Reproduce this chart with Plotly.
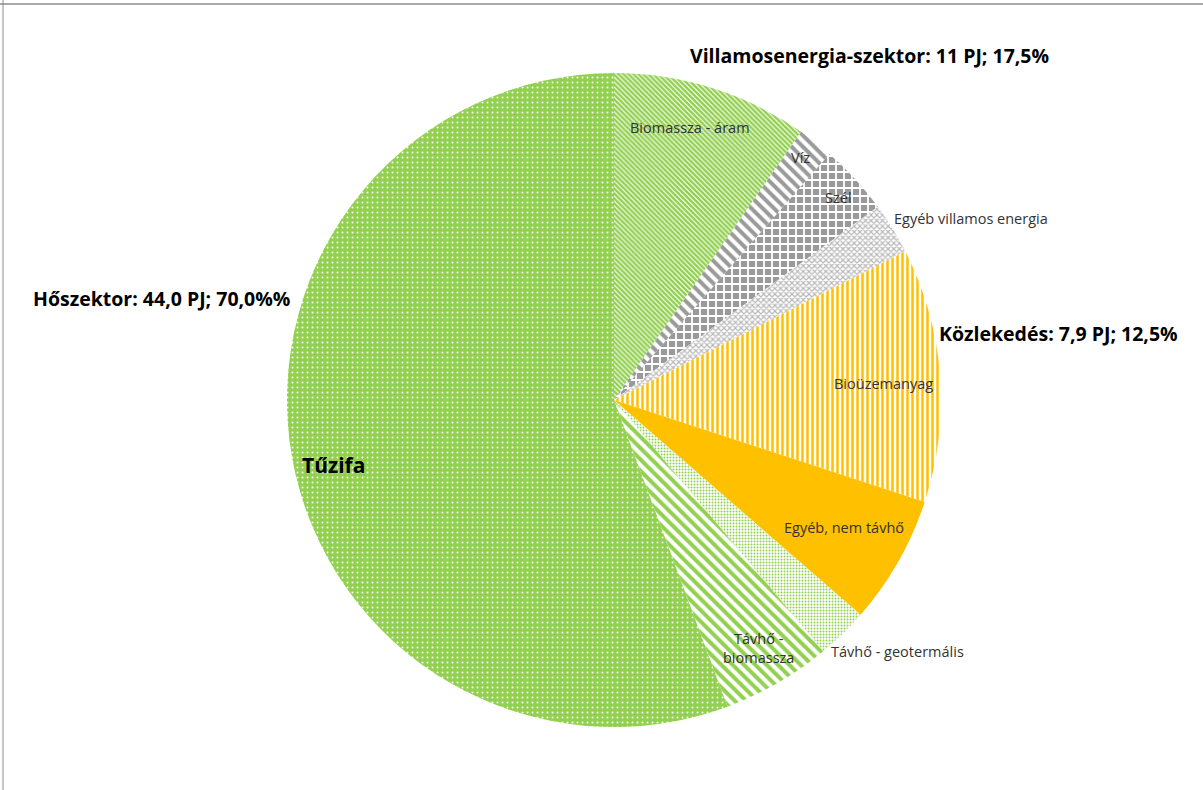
import plotly.graph_objects as go

W, H = 1203, 790

# Data (PJ), clockwise from 12 o'clock
labels = ["Biomassza - áram", "Víz", "Szél", "Egyéb villamos energia",
          "Bioüzemanyag", "Egyéb, nem távhő", "Távhő - geotermális",
          "Távhő - biomassza", "Tűzifa"]
values = [6.1, 1.1, 2.2, 1.6, 7.9, 4.0, 1.6, 3.4, 35.0]

sector_titles = ["Villamosenergia-szektor: 11 PJ; 17,5%",
                 "Közlekedés: 7,9 PJ; 12,5%",
                 "Hőszektor: 44,0 PJ; 70,0%%"]

GREEN = "#92D050"
GREY = "#9a9a9a"
LGREY = "#b8b8b8"
ORANGE = "#FFC000"

shapes_p = ["\\", "\\", "+", "x", "|", "", ".", "\\", "."]
fg = [GREEN, GREY, "white", LGREY, ORANGE, ORANGE, GREEN, GREEN, "white"]
bg = ["white", "white", GREY, "white", "white", ORANGE, "white", "white", GREEN]
psize = [3.5, 8, 8, 4, 5, 8, 3, 8, 5]
solid = [0.7, 0.5, 0.4, 0.5, 0.5, 0.3, 0.35, 0.5, 0.12]

cx, cy, r = 614, 400, 327

fig = go.Figure(go.Pie(
    labels=labels, values=values, sort=False, direction="clockwise", rotation=0,
    textinfo="none", hoverinfo="label+value+percent",
    marker=dict(colors=bg, line=dict(width=0),
                pattern=dict(shape=shapes_p, fgcolor=fg, bgcolor=bg,
                             size=psize, solidity=solid, fillmode="replace")),
    domain=dict(x=[(cx - r) / W, (cx + r) / W], y=[1 - (cy + r) / H, 1 - (cy - r) / H]),
    showlegend=False,
))

FONT = "Open Sans"

def ann(text, px, py, size=14.5, bold=False, color="#333333"):
    t = f"<b>{text}</b>" if bold else text
    fig.add_annotation(x=px / W, y=1 - py / H, xref="paper", yref="paper",
                       text=t, showarrow=False, xanchor="center", yanchor="middle",
                       font=dict(family=FONT, size=size, color=color))

# slice labels
label_pos = {
    "Biomassza - áram": (690, 128),
    "Víz": (800, 158),
    "Szél": (838, 197),
    "Egyéb villamos energia": (971, 218),
    "Bioüzemanyag": (883, 384),
    "Egyéb, nem távhő": (844, 527),
    "Távhő - geotermális": (897, 651),
}
for lab, (px, py) in label_pos.items():
    ann(lab, px, py)
ann("Távhő -<br>biomassza", 758, 648)
ann("Tűzifa", 333, 465, size=21, bold=True, color="black")

# sector titles
ann(sector_titles[0], 869, 55, size=19.5, bold=True, color="black")
ann(sector_titles[1], 1058, 333, size=19.5, bold=True, color="black")
ann(sector_titles[2], 161, 298, size=19.5, bold=True, color="black")

# frame lines (top and left)
fig.add_shape(type="line", xref="paper", yref="paper", x0=0, x1=1, y0=1 - 4 / H, y1=1 - 4 / H,
              line=dict(color="#8c8c8c", width=1.5))
fig.add_shape(type="line", xref="paper", yref="paper", x0=3 / W, x1=3 / W, y0=0, y1=1,
              line=dict(color="#8c8c8c", width=1))

fig.update_layout(width=W, height=H, margin=dict(l=0, r=0, t=0, b=0),
                  paper_bgcolor="white", plot_bgcolor="white")

fig.write_html("out.html", config={"displayModeBar": False},
               post_script="document.body.style.margin='0px';document.body.style.overflow='hidden';")
